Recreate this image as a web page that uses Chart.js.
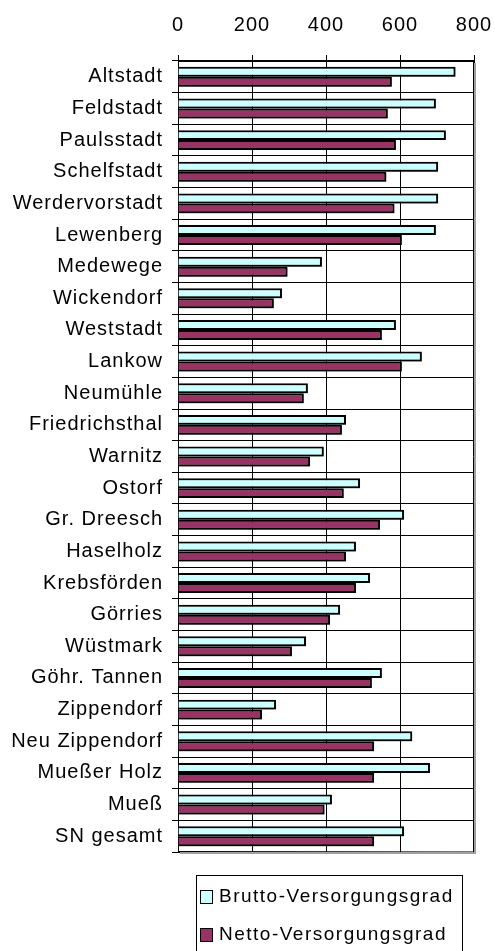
<!DOCTYPE html>
<html lang="de">
<head>
<meta charset="utf-8">
<title>Versorgungsgrad nach Stadtteilen</title>
<script src="https://cdn.jsdelivr.net/npm/chart.js@4/dist/chart.umd.min.js"></script>
<style>
    html, body { margin: 0; padding: 0; background: #fff; }
    canvas { display: block; }
</style>
</head>
<body>
<canvas id="supply-chart" width="495" height="951"></canvas>
<script>
const districts = [
    'Altstadt', 'Feldstadt', 'Paulsstadt', 'Schelfstadt', 'Werdervorstadt',
    'Lewenberg', 'Medewege', 'Wickendorf', 'Weststadt', 'Lankow',
    'Neumühle', 'Friedrichsthal', 'Warnitz', 'Ostorf', 'Gr. Dreesch',
    'Haselholz', 'Krebsförden', 'Görries', 'Wüstmark', 'Göhr. Tannen',
    'Zippendorf', 'Neu Zippendorf', 'Mueßer Holz', 'Mueß', 'SN gesamt'
];

const bruttoValues = [
    750, 697, 724, 703, 703, 697, 389, 281, 589, 659, 351, 454, 394,
    492, 611, 481, 519, 438, 346, 551, 265, 633, 681, 416, 611
];

const nettoValues = [
    578, 567, 589, 563, 585, 605, 296, 259, 551, 605, 340, 443, 357,
    448, 546, 454, 481, 411, 308, 524, 227, 530, 530, 396, 530
];

const seriesLabels = ['Brutto-Versorgungsgrad', 'Netto-Versorgungsgrad'];
const xTicks = [0, 200, 400, 600, 800];

const FONT = '"Liberation Sans", Arial, sans-serif';

class SupplyChart {
    constructor() {
        this.canvas = document.getElementById('supply-chart');
        this.init();
    }

    init() {
        Chart.defaults.font.family = FONT;
        Chart.defaults.color = '#000';
        this.chart = new Chart(this.canvas, {
            type: 'bar',
            data: this.buildData(),
            options: this.buildOptions(),
            plugins: [this.shadowPlugin(), this.framePlugin(), this.legendPlugin()]
        });
    }

    buildData() {
        return {
            labels: districts,
            datasets: [
                {
                    label: seriesLabels[0],
                    data: bruttoValues,
                    backgroundColor: '#CCFFFF',
                    borderColor: '#000',
                    borderWidth: 2
                },
                {
                    label: seriesLabels[1],
                    data: nettoValues,
                    backgroundColor: '#993366',
                    borderColor: '#000',
                    borderWidth: 2
                }
            ]
        };
    }

    buildOptions() {
        return {
            indexAxis: 'y',
            responsive: false,
            animation: false,
            devicePixelRatio: 1,
            datasets: {
                bar: { categoryPercentage: 0.63, barPercentage: 1 }
            },
            layout: { padding: { top: 0, left: 0, right: 21, bottom: 99 } },
            plugins: {
                legend: { display: false },
                tooltip: { enabled: false }
            },
            scales: {
                x: {
                    position: 'top',
                    min: 0,
                    max: 800,
                    afterBuildTicks: scale => {
                        scale.ticks = xTicks.map(value => ({ value }));
                    },
                    // keep the plot edges fixed, labels may hang over
                    afterFit: scale => {
                        scale.height = 61;
                        scale.paddingLeft = 0;
                        scale.paddingRight = 0;
                    },
                    grid: { color: '#000', lineWidth: 1, tickLength: 6 },
                    border: { color: '#000', width: 1 },
                    ticks: { font: { size: 20 }, padding: 18, color: '#000' }
                },
                y: {
                    afterFit: scale => { scale.width = 178; },
                    grid: { color: '#000', lineWidth: 1, tickLength: 6, offset: true },
                    border: { color: '#000', width: 1 },
                    ticks: { font: { size: 20 }, padding: 9, color: '#000' }
                }
            }
        };
    }

    // grey drop shadow under each bar, like the old office charts
    shadowPlugin() {
        return {
            id: 'barShadow',
            beforeDraw: chart => { chart.ctx.letterSpacing = '1px'; },
            beforeDatasetsDraw: chart => {
                const ctx = chart.ctx;
                ctx.save();
                ctx.shadowColor = 'rgba(0,0,0,0.45)';
                ctx.shadowOffsetX = 1;
                ctx.shadowOffsetY = 1;
                ctx.shadowBlur = 0;
            },
            afterDatasetsDraw: chart => { chart.ctx.restore(); }
        };
    }

    // grey shadow along the right and bottom edge of the plot area
    framePlugin() {
        return {
            id: 'plotFrame',
            afterDraw: chart => {
                const { ctx, chartArea: a } = chart;
                ctx.save();
                ctx.strokeStyle = '#000';
                ctx.lineWidth = 1;
                ctx.beginPath();
                ctx.moveTo(a.right - 0.5, a.top);
                ctx.lineTo(a.right - 0.5, a.bottom);
                ctx.lineTo(a.left, a.bottom - 0.5);
                ctx.stroke();
                ctx.strokeStyle = '#a0a0a0';
                ctx.lineWidth = 2;
                ctx.beginPath();
                ctx.moveTo(a.right + 1, a.top + 2);
                ctx.lineTo(a.right + 1, a.bottom + 1);
                ctx.lineTo(a.left + 2, a.bottom + 1);
                ctx.stroke();
                ctx.restore();
            }
        };
    }

    // boxed legend below the plot, one series per row
    legendPlugin() {
        return {
            id: 'boxLegend',
            afterDraw: chart => {
                const ctx = chart.ctx;
                const box = { left: 196, top: 875, right: 462, bottom: 960 };
                const rows = [897, 935];
                ctx.save();
                ctx.strokeStyle = '#000';
                ctx.lineWidth = 1;
                ctx.strokeRect(box.left + 0.5, box.top + 0.5, box.right - box.left, box.bottom - box.top);
                ctx.font = `19px ${FONT}`;
                ctx.letterSpacing = '1.5px';
                ctx.textBaseline = 'middle';
                chart.data.datasets.forEach((ds, i) => {
                    const y = rows[i];
                    ctx.fillStyle = ds.backgroundColor;
                    ctx.fillRect(201, y - 6, 11, 12);
                    ctx.strokeStyle = '#000';
                    ctx.strokeRect(200.5, y - 6.5, 12, 13);
                    ctx.fillStyle = '#000';
                    ctx.fillText(ds.label, 219, y);
                });
                ctx.restore();
            }
        };
    }
}

document.addEventListener('DOMContentLoaded', () => {
    new SupplyChart();
});
</script>
</body>
</html>
